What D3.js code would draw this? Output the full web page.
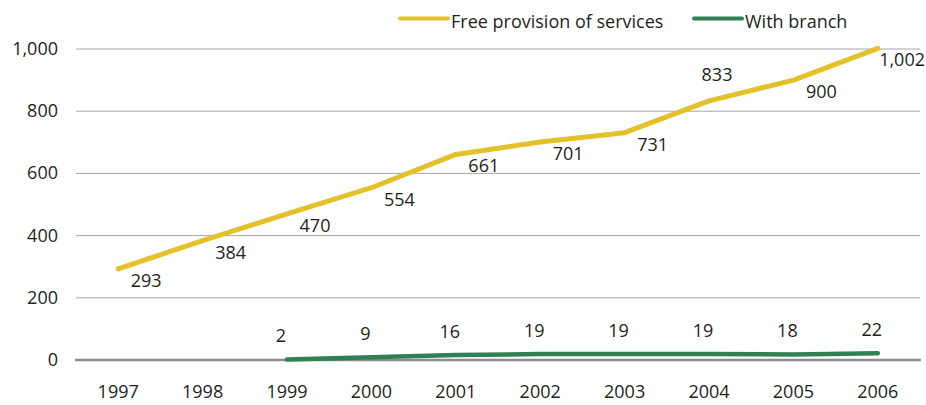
<!DOCTYPE html>
<html>
<head>
<meta charset="utf-8">
<title>Free provision of services vs branch</title>
<style type="text/css">
	body { margin: 0; background: #fff; }
	text { font-family: "Open Sans", sans-serif; fill: #231f20; }
	.grid line { stroke: #a6a6a6; stroke-width: 1; }
	.zero { stroke: #8c8c8c; stroke-width: 2.5; }
</style>
<script src="https://cdn.jsdelivr.net/npm/d3@7/dist/d3.min.js"></script>
</head>
<body>
<div id="chart"></div>
<script type="text/javascript">
var years = ['1997','1998','1999','2000','2001','2002','2003','2004','2005','2006'];
var freeProvision = [293, 384, 470, 554, 661, 701, 731, 833, 900, 1002];
var withBranch = [null, null, 2, 9, 16, 19, 19, 19, 18, 22];
var yTicks = [0, 200, 400, 600, 800, 1000];
var seriesNames = ['Free provision of services', 'With branch'];

var width = 926, height = 405;
var plotLeft = 76, plotRight = 920, plotTop = 49, plotBottom = 360;
var yellow = '#e4c12b', green = '#2f8152';

var svg = d3.select('#chart').append('svg')
		.attr('width', width)
		.attr('height', height);

var x = d3.scaleBand().domain(years).range([plotLeft, plotRight]);
var y = d3.scaleLinear().domain([0, 1000]).range([plotBottom, plotTop]);
var cx = function(d, i) { return x(years[i]) + x.bandwidth() / 2; };

// gridlines
svg.append('g').attr('class', 'grid')
	.selectAll('line')
		.data(yTicks.filter(function(t){ return t > 0; }))
	.enter().append('line')
		.attr('x1', plotLeft).attr('x2', plotRight)
		.attr('y1', function(d){ return y(d); })
		.attr('y2', function(d){ return y(d); });

svg.append('line').attr('class', 'zero')
	.attr('x1', plotLeft - 1).attr('x2', plotRight + 1)
	.attr('y1', y(0)).attr('y2', y(0));

// y axis labels
var fmt = d3.format(',');
svg.append('g').selectAll('text')
		.data(yTicks)
	.enter().append('text')
		.attr('x', 58)
		.attr('y', function(d){ return y(d) + 6; })
		.attr('text-anchor', 'end')
		.style('font-size', '18px')
		.text(function(d){ return fmt(d); });

// x axis labels
svg.append('g').selectAll('text')
		.data(years)
	.enter().append('text')
		.attr('x', function(d){ return x(d) + x.bandwidth() / 2; })
		.attr('y', 398)
		.attr('text-anchor', 'middle')
		.style('font-size', '18px')
		.text(function(d){ return d; });

var line = d3.line()
		.defined(function(d){ return d != null; })
		.x(cx)
		.y(function(d){ return y(d); });

svg.append('path').datum(withBranch)
	.attr('d', line)
	.attr('fill', 'none')
	.attr('stroke', green)
	.attr('stroke-width', 4.5)
	.attr('stroke-linecap', 'round');

svg.append('path').datum(freeProvision)
	.attr('d', line)
	.attr('fill', 'none')
	.attr('stroke', yellow)
	.attr('stroke-width', 5)
	.attr('stroke-linecap', 'round')
	.attr('stroke-linejoin', 'round');

// data labels (yellow: right/below, 2004 above)
svg.append('g').selectAll('text')
		.data(freeProvision)
	.enter().append('text')
		.attr('x', function(d, i){ return cx(d, i) + (i == 7 ? 8 : 28); })
		.attr('y', function(d, i){ return y(d) + (i == 7 ? -20 : 18); })
		.attr('text-anchor', 'middle')
		.style('font-size', '18px')
		.text(function(d){ return fmt(d); })
		.each(function(){
			// keep last label inside the picture
			var w = this.getComputedTextLength();
			var xx = +this.getAttribute('x');
			if (xx + w / 2 > width - 1) this.setAttribute('x', width - 1 - w / 2);
		});

var branchPts = withBranch.map(function(d, i){ return {v: d, i: i}; })
		.filter(function(p){ return p.v != null; });
svg.append('g').selectAll('text')
		.data(branchPts)
	.enter().append('text')
		.attr('x', function(p){ return cx(p.v, p.i) - 6; })
		.attr('y', function(p){ return y(p.v) - 17; })
		.attr('text-anchor', 'middle')
		.style('font-size', '18px')
		.text(function(p){ return p.v; });

// legend
var legend = [{name: seriesNames[0], color: yellow, x: 400}, {name: seriesNames[1], color: green, x: 694}];
var lg = svg.append('g').selectAll('g').data(legend).enter().append('g');
lg.append('line')
	.attr('x1', function(d){ return d.x; }).attr('x2', function(d){ return d.x + 48; })
	.attr('y1', 18.5).attr('y2', 18.5)
	.attr('stroke', function(d){ return d.color; })
	.attr('stroke-width', 4)
	.attr('stroke-linecap', 'round');
lg.append('text')
	.attr('x', function(d){ return d.x + 51; })
	.attr('y', 28)
	.style('font-size', '18px')
	.text(function(d){ return d.name; });
</script>
</body>
</html>
